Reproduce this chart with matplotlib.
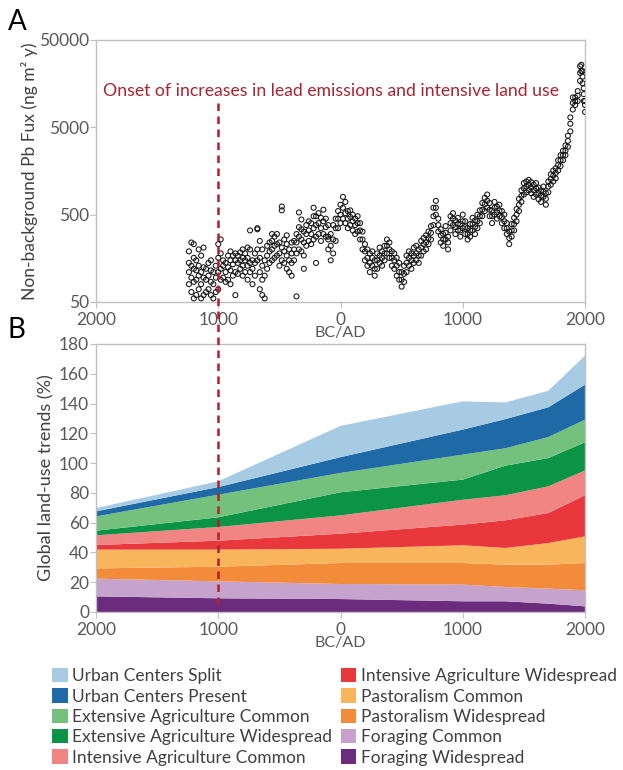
import numpy as np
import matplotlib
matplotlib.use("Agg")
import matplotlib.pyplot as plt
from matplotlib.lines import Line2D
from matplotlib.patches import Patch
from matplotlib.transforms import blended_transform_factory

plt.rcParams['font.family'] = ['Lato', 'DejaVu Sans']

# panel A: non-background Pb flux (year, ng m-2 y-1)
pb_year = [
    -1240, -1240, -1240, -1240, -1220, -1220, -1220, -1220,
    -1200, -1200, -1200, -1200, -1200, -1180, -1180, -1180, -1180,
    -1160, -1160, -1160, -1160, -1140, -1140, -1140, -1140,
    -1120, -1120, -1120, -1120, -1100, -1100, -1100,
    -1080, -1080, -1080, -1060, -1060, -1060, -1060,
    -1040, -1040, -1040, -1020, -1020, -1020,
    -1000, -1000, -1000, -1000, -980, -980, -980, -980,
    -960, -960, -960, -940, -940, -940, -920, -920, -920,
    -900, -900, -900, -900, -880, -880, -880, -860, -860, -860, -860,
    -840, -840, -840, -820, -820, -820, -800, -800, -800, -800,
    -780, -780, -780, -760, -760, -760, -760, -740, -740, -740, -740,
    -720, -720, -720, -700, -700, -700, -680, -680, -680, -680,
    -660, -660, -660, -660, -640, -640, -640, -640, -620, -620, -620,
    -600, -600, -600, -580, -580, -580, -560, -560, -560, -560,
    -540, -540, -540, -520, -520, -520, -500, -500, -500,
    -480, -480, -480, -480, -460, -460, -460, -440, -440, -440, -440,
    -420, -420, -420, -400, -400, -400, -400, -380, -380, -380,
    -360, -360, -360, -360, -340, -340, -340, -340, -320, -320, -320, -320,
    -300, -300, -300, -300, -280, -280, -280, -260, -260, -260,
    -240, -240, -240, -220, -220, -220, -220, -200, -200, -200, -200,
    -180, -180, -180, -160, -160, -160, -140, -140, -140, -120, -120, -120,
    -100, -100, -100, -100, -80, -80, -80, -60, -60, -60, -40, -40, -40,
    -20, -20, -20, 0, 0, 0, 20, 20, 20, 40, 40, 40, 60, 60, 60,
    80, 80, 80, 100, 100, 100, 120, 120, 120, 140, 140, 140,
    160, 160, 160, 180, 180, 180, 200, 200, 200, 220, 220, 220,
    240, 240, 240, 260, 260, 260, 280, 280, 280, 300, 300, 300,
    320, 320, 320, 340, 340, 340, 360, 360, 360, 380, 380, 380,
    400, 400, 400, 420, 420, 420, 440, 440, 440, 460, 460, 460,
    480, 480, 480, 500, 500, 500, 520, 520, 520, 540, 540, 540,
    560, 560, 560, 580, 580, 580, 600, 600, 600, 620, 620, 620,
    640, 640, 640, 660, 660, 660, 680, 680, 680, 700, 700, 700,
    720, 720, 720, 740, 740, 740, 760, 760, 760, 780, 780, 780,
    800, 800, 800, 820, 820, 820, 840, 840, 840, 860, 860, 860,
    880, 880, 880, 900, 900, 900, 920, 920, 920, 940, 940, 940,
    960, 960, 960, 980, 980, 980, 1000, 1000, 1000, 1020, 1020, 1020,
    1040, 1040, 1040, 1060, 1060, 1060, 1080, 1080, 1080, 1100, 1100, 1100,
    1120, 1120, 1120, 1140, 1140, 1140, 1160, 1160, 1160, 1180, 1180, 1180,
    1200, 1200, 1200, 1220, 1220, 1220, 1240, 1240, 1240, 1260, 1260, 1260,
    1280, 1280, 1280, 1300, 1300, 1300, 1320, 1320, 1320, 1340, 1340, 1340,
    1360, 1360, 1360, 1380, 1380, 1380, 1400, 1400, 1400, 1420, 1420, 1420,
    1440, 1440, 1440, 1460, 1460, 1460, 1480, 1480, 1480, 1500, 1500, 1500,
    1520, 1520, 1520, 1540, 1540, 1540, 1560, 1560, 1560, 1580, 1580, 1580,
    1600, 1600, 1600, 1620, 1620, 1620, 1640, 1640, 1640, 1660, 1660, 1660,
    1680, 1680, 1680, 1700, 1700, 1700, 1720, 1720, 1720, 1740, 1740, 1740,
    1760, 1760, 1760, 1780, 1780, 1780, 1800, 1800, 1800, 1820, 1820, 1820,
    1840, 1840, 1840, 1860, 1860, 1860, 1880, 1880, 1880, 1900, 1900, 1900,
    1920, 1920, 1920, 1940, 1940, 1940, 1960, 1960, 1960, 1970, 1970,
    1980, 1980, 1980, 1990, 1990, 1990, 2000, 2000, 2000,
]
pb_flux = [
    80, 110, 140, 190, 65, 95, 130, 240,
    55, 85, 120, 160, 230, 60, 90, 115, 150,
    70, 100, 130, 200, 55, 80, 110, 170,
    60, 95, 125, 210, 65, 90, 120,
    70, 100, 140, 60, 85, 115, 150,
    55, 80, 110, 65, 95, 130,
    70, 110, 160, 230, 90, 120, 180, 260,
    95, 130, 150, 85, 110, 140, 90, 125, 170,
    80, 115, 150, 190, 100, 135, 170, 60, 110, 150, 180,
    105, 140, 170, 120, 150, 185, 100, 130, 160, 200,
    110, 150, 180, 90, 130, 160, 210, 110, 140, 200, 330,
    80, 120, 150, 100, 140, 180, 150, 200, 340, 350,
    70, 110, 160, 250, 60, 90, 130, 200, 55, 100, 150,
    120, 170, 220, 140, 190, 240, 150, 200, 250, 300,
    160, 220, 280, 170, 230, 300, 130, 180, 240,
    150, 210, 560, 620, 140, 190, 260, 120, 170, 230, 290,
    110, 150, 200, 100, 140, 180, 240, 150, 200, 250,
    180, 240, 300, 58, 200, 280, 360, 530, 190, 260, 340, 440,
    170, 240, 320, 120, 220, 300, 380, 250, 330, 420,
    230, 300, 400, 260, 350, 480, 600, 280, 380, 480, 140,
    300, 400, 520, 250, 350, 460, 300, 420, 570, 280, 360, 450,
    200, 280, 380, 260, 150, 220, 300, 180, 260, 380, 250, 350, 450,
    350, 450, 550, 400, 500, 650, 450, 600, 800, 400, 520, 700, 350, 450, 550,
    380, 470, 560, 330, 420, 500, 300, 380, 450, 320, 400, 480,
    260, 330, 400, 200, 260, 320, 150, 190, 230, 130, 160, 200,
    110, 140, 180, 130, 160, 190, 100, 120, 150, 120, 150, 180,
    140, 170, 210, 130, 160, 190, 150, 180, 220, 180, 220, 260,
    160, 200, 240, 130, 160, 190, 120, 150, 180, 100, 130, 160,
    90, 110, 140, 75, 90, 110, 85, 105, 130, 110, 140, 170,
    130, 160, 190, 120, 150, 180, 140, 170, 210, 150, 180, 220,
    140, 170, 200, 170, 210, 250, 190, 230, 270, 200, 240, 290,
    230, 270, 320, 260, 310, 370, 380, 480, 600, 500, 600, 720,
    320, 380, 450, 240, 290, 340, 220, 260, 300, 260, 310, 370,
    200, 240, 280, 330, 400, 480, 380, 450, 520, 300, 360, 430,
    330, 390, 460, 280, 330, 390, 350, 420, 500, 300, 360, 420,
    260, 300, 350, 280, 330, 390, 330, 390, 460, 300, 360, 430,
    350, 420, 500, 400, 480, 560, 480, 570, 680, 550, 660, 780,
    600, 720, 850, 480, 570, 680, 400, 480, 560, 500, 600, 700,
    450, 530, 620, 480, 560, 650, 400, 470, 550, 350, 420, 500,
    300, 350, 400, 230, 270, 320, 280, 330, 390, 330, 390, 460,
    420, 500, 580, 550, 650, 760, 700, 820, 950, 850, 1000, 1150,
    900, 1050, 1200, 950, 1100, 1250, 880, 1020, 1180, 800, 950, 1100,
    850, 1000, 1150, 750, 880, 1020, 700, 820, 950, 800, 920, 1050,
    650, 760, 880, 900, 1050, 1200, 1100, 1280, 1450, 1200, 1400, 1600,
    1300, 1500, 1700, 1600, 1850, 2100, 1800, 2100, 2400, 2100, 2400, 2700,
    2400, 2700, 3100, 3000, 3500, 4000, 4500, 5500, 6500, 8000, 9500, 11000,
    9000, 10000, 11000, 10000, 11500, 13000, 17000, 21000, 25000, 22000, 26000,
    16000, 19000, 22000, 10000, 12000, 14000, 7500, 9000, 10000,
]

# panel B: stacked land-use layers (bottom to top), percent
lu_year = [-2000, -1000, 0, 1000, 1350, 1700, 2000]
foraging_wide = [10.5, 9.2, 8.7, 7.2, 7.2, 5.6, 3.8]
foraging_common = [11.9, 11.4, 10.1, 11.2, 9.6, 10.1, 10.8]
pastoral_wide = [6.9, 9.8, 14.1, 14.5, 15.0, 16.1, 18.3]
pastoral_common = [12.6, 11.5, 9.6, 11.9, 11.2, 14.5, 17.9]
intensive_wide = [3.1, 6.0, 10.1, 13.9, 18.6, 20.2, 27.6]
intensive_common = [6.5, 9.2, 12.3, 16.7, 16.8, 17.9, 16.7]
extensive_wide = [3.1, 6.5, 15.5, 13.5, 19.9, 19.0, 18.9]
extensive_common = [9.6, 15.2, 13.0, 16.8, 11.7, 14.1, 15.2]
urban_present = [3.4, 5.1, 10.6, 16.8, 19.6, 20.0, 23.5]
urban_split = [2.2, 3.9, 21.0, 19.0, 11.2, 11.1, 19.5]

layers = [foraging_wide, foraging_common, pastoral_wide, pastoral_common,
          intensive_wide, intensive_common, extensive_wide, extensive_common,
          urban_present, urban_split]
layer_names = ["Foraging Widespread", "Foraging Common", "Pastoralism Widespread",
               "Pastoralism Common", "Intensive Agriculture Widespread",
               "Intensive Agriculture Common", "Extensive Agriculture Widespread",
               "Extensive Agriculture Common", "Urban Centers Present",
               "Urban Centers Split"]
layer_colors = ["#6b2c7e", "#c6a3cc", "#f28b3a", "#f9b55c", "#e8383b",
                "#f08584", "#0b9446", "#74c17d", "#1f6aa6", "#a7cbe3"]

xticks = [-2000, -1000, 0, 1000, 2000]
xticklabels = ["2000", "1000", "0", "1000", "2000"]
onset_year = -1000

grey = "#595959"
spine_grey = "#c0c0c0"
red = "#a8242e"

fig = plt.figure(figsize=(6.23, 7.7), dpi=100)
ax_a = fig.add_axes([96 / 623, 1 - 302 / 770, 489 / 623, 262 / 770])
ax_b = fig.add_axes([96 / 623, 1 - 612 / 770, 489 / 623, 268 / 770])

# ---- panel A
ax_a.scatter(pb_year, pb_flux, s=13, facecolors="none", edgecolors="#151515",
             linewidths=0.75, zorder=3)
ax_a.set_yscale("log")
ax_a.set_ylim(50, 50000)
ax_a.set_yticks([50, 500, 5000, 50000])
ax_a.set_yticklabels(["50", "500", "5000", "50000"])
ax_a.minorticks_off()
ax_a.set_ylabel("Non-background Pb Fux (ng m\u00b2 y)", fontsize=12.5,
                color="#404040", labelpad=1)
ax_a.text(0.014, 0.805, "Onset of increases in lead emissions and intensive land use",
          transform=ax_a.transAxes, color=red, fontsize=12.7, ha="left", va="center")

# ---- panel B
ax_b.stackplot(lu_year, *layers, colors=layer_colors, linewidth=0)
ax_b.set_ylim(0, 180)
ax_b.set_yticks(range(0, 181, 20))
ax_b.set_ylabel("Global land-use trends (%)", fontsize=13, color="#404040",
                labelpad=3)

for ax in (ax_a, ax_b):
    ax.set_xlim(-2000, 2000)
    ax.set_xticks(xticks)
    ax.set_xticklabels(xticklabels)
    ax.set_xlabel("BC/AD", fontsize=11.5, color=grey, labelpad=-1)
    ax.tick_params(axis="both", labelsize=12.5, colors=grey, length=4,
                   width=0.8, color=spine_grey, pad=1)
    ax.tick_params(axis="x", pad=3)
    for sp in ax.spines.values():
        sp.set_color(spine_grey)
        sp.set_linewidth(1.0)

# dashed onset line spanning both panels
trans = blended_transform_factory(ax_b.transData, fig.transFigure)
fig.add_artist(Line2D([onset_year, onset_year], [1 - 103 / 770, 1 - 610 / 770],
                      transform=trans, color="#b01f2c", lw=1.8,
                      linestyle=(0, (3, 2.2))))

fig.text(8 / 623, 1 - 22 / 770, "A", fontsize=20, va="center", ha="left")
fig.text(8 / 623, 1 - 330 / 770, "B", fontsize=20, va="center", ha="left")

handles = [Patch(facecolor=c, edgecolor="none") for c in layer_colors[::-1]]
fig.legend(handles, layer_names[::-1], ncol=2, loc="upper left",
           bbox_to_anchor=(52 / 623, 1 - 668 / 770), frameon=False,
           fontsize=12.5, handlelength=0.9, handleheight=0.9, handletextpad=0.25,
           columnspacing=0.5, labelspacing=0.24, borderpad=0, borderaxespad=0,
           labelcolor="#404040")

fig.savefig("out.png", dpi=100)
